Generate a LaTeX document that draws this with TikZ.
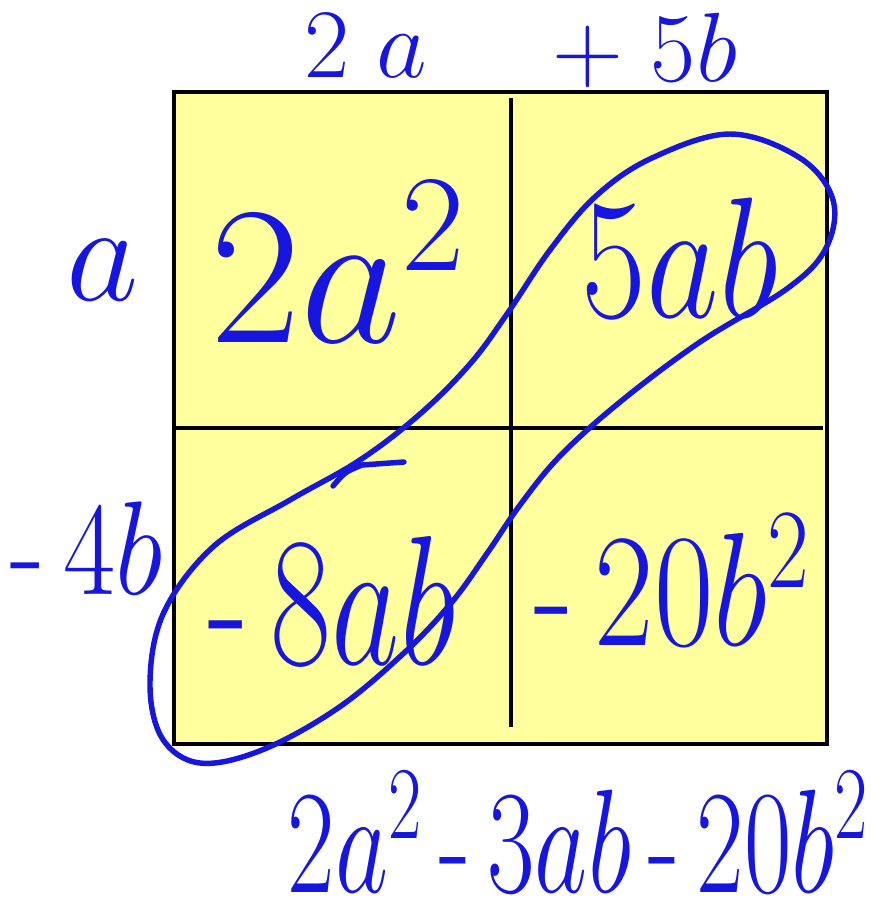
\documentclass[tikz,border=0pt]{standalone}
\usepackage{fix-cm}
\usepackage{amsmath}
\usepackage{graphicx}
\usepackage{tikz}
\definecolor{cPen}{HTML}{1616E0}
\definecolor{cPad}{HTML}{FFFF9E}
\tikzset{
  pad/.style={fill=cPad, draw=black, line width=2.6pt},
  divline/.style={draw=black, line width=2.6pt},
  pen/.style={cPen, line width=3.1pt, line cap=round, line join=round},
  term/.style={text=cPen, inner sep=0pt}
}
\newcommand{\penminus}{\text{-}\,}
\newcommand{\narrow}[2]{\scalebox{#1}[1]{#2}}
\newcommand{\fsz}[1]{\fontsize{#1}{#1}\selectfont}

\begin{document}
\begin{tikzpicture}[x=0.02cm, y=-0.02cm]
\useasboundingbox (0,0) rectangle (884,913);
% the square and its two dividers
\path[pad] (174,92) rectangle (827,744);
\draw[divline] (511,98) -- (511,727);
\draw[divline] (175,428) -- (823,428);
% factors
\node[term, font=\fsz{56}] (ftop1) at (366,46) {$2\;a$};
\node[term, font=\fsz{56}] (ftop2) at (645,50) {$+\;5b$};
\node[term, font=\fsz{80}] (fleft1) at (103,270) {$a$};
\node[term, font=\fsz{76}] (fleft2) at (87,548) {\narrow{0.85}{$\penminus 4b$}};
% partial products
\node[term, font=\fsz{112}] (p11) at (338,262) {$2a^2$};
\node[term, font=\fsz{98}] (p12) at (680,258) {\narrow{0.82}{$5ab$}};
\node[term, font=\fsz{105}] (p21) at (332,600) {\narrow{0.72}{$\penminus 8ab$}};
\node[term, font=\fsz{92}] (p22) at (672,580) {\narrow{0.8}{$\penminus 20b^2$}};
% like terms looped together
\draw[pen] plot[smooth cycle, tension=0.6] coordinates {
  (730,134) (800,158) (833,200) (826,248) (788,288) (700,342) (620,402)
  (560,456) (520,505) (488,552) (452,602) (405,652) (338,708) (262,750)
  (200,763) (162,738) (150,682) (164,612) (214,546) (290,500) (360,460)
  (420,414) (470,364) (507,314) (550,250) (596,196) (652,158)};
\draw[pen] (333,486) .. controls (345,472) .. (362,465) -- (404,462);
% result
\node[term, font=\fsz{84}] (res) at (578,832) {\narrow{0.7}{$2a^2\,\penminus 3ab\,\penminus 20b^2$}};
\end{tikzpicture}
\end{document}
